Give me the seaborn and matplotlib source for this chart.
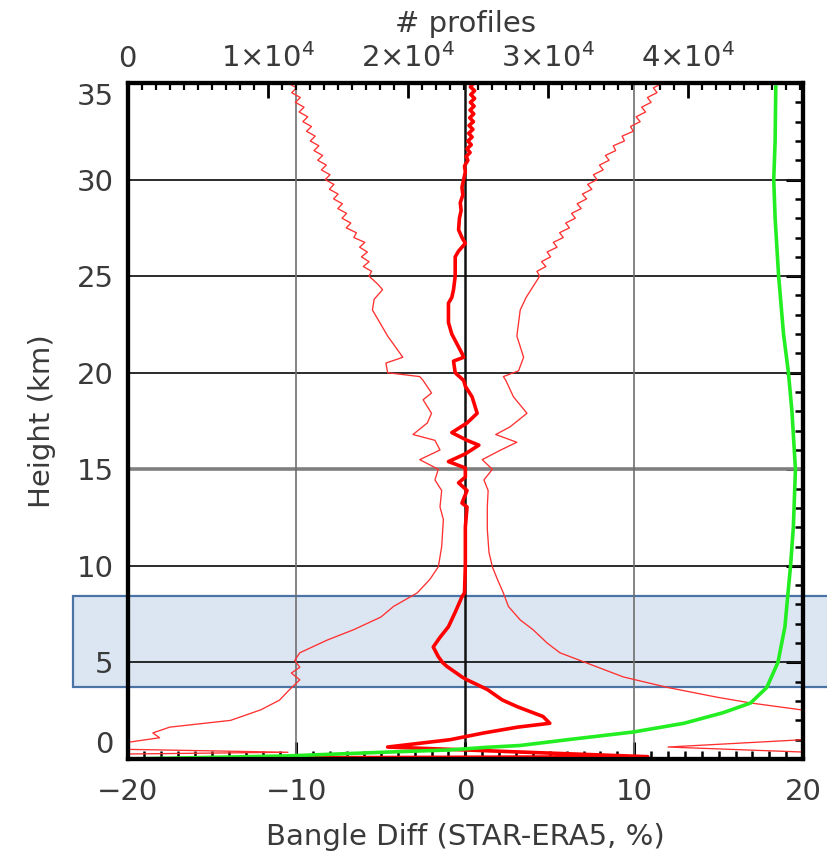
import numpy as np
import pandas as pd
import matplotlib
matplotlib.use("Agg")
import matplotlib.pyplot as plt
import seaborn as sns
from matplotlib.patches import Rectangle
from matplotlib.transforms import blended_transform_factory
from matplotlib.ticker import MultipleLocator, FixedLocator

# ---------------- data ----------------
# mean bending-angle difference (thick red), height in km, value in %
mean_h = [35.0, 34.8, 34.6, 34.4, 34.2, 34.0, 33.8, 33.6, 33.4, 33.2, 33.0, 32.8, 32.6,
          32.4, 32.2, 32.0, 31.8, 31.6, 31.4, 31.2, 31.0, 30.7, 30.4, 30.0, 29.6, 29.2,
          28.8, 28.4, 28.0, 27.4, 27.0, 26.7, 26.3, 26.0,
          25.0, 24.3, 23.9, 23.6, 22.6, 22.0, 21.5, 21.0, 20.8, 20.6, 20.0, 19.6, 19.3,
          18.75, 17.9, 17.4, 16.9, 16.5, 16.25, 15.8, 15.4, 15.07, 14.6, 14.3, 13.9,
          13.25, 13.05, 12.0, 10.0, 8.6, 8.4, 7.6, 6.85, 6.3, 5.8, 5.3, 5.0, 4.8, 4.25,
          4.1, 3.6, 3.05, 2.7, 2.2, 1.85, 1.65, 1.35, 1.0, 0.62, 0.47, 0.36, 0.12, 0.06]
mean_v = [0.5, 0.3, 0.55, 0.32, 0.55, 0.3, 0.52, 0.28, 0.5, 0.26, 0.48, 0.22, 0.45,
          0.2, 0.4, 0.15, 0.35, 0.1, 0.28, 0.05, 0.15, -0.05, 0.0, -0.1, -0.2, -0.15,
          -0.3, -0.25, -0.35, -0.4, -0.2, 0.0, -0.4, -0.6,
          -0.6, -0.7, -0.8, -1.0, -1.0, -0.8, -0.5, -0.2, -0.1, -0.7, -0.6, -0.1, 0.0,
          0.4, 0.7, 0.1, -0.8, 0.1, 0.8, 0.0, -1.0, 0.0, 0.0, -0.4, 0.1,
          -0.2, 0.1, 0.0, 0.0, -0.05, -0.2, -0.6, -1.0, -1.5, -1.9, -1.6, -1.35, -1.1, -0.2,
          0.1, 1.3, 2.2, 3.1, 4.6, 5.0, 3.1, 1.1, -0.9, -4.6, 0.0, 3.3, 10.8, -10.5]

# mean - std (thin red, left)
lo_h = [35.0, 34.75, 34.5, 34.25, 34.0, 33.75, 33.5, 33.25, 33.0, 32.75, 32.5, 32.25,
        32.0, 31.75, 31.5, 31.25, 31.0, 30.75, 30.5, 30.25, 30.0, 29.75, 29.5, 29.25,
        29.0, 28.75, 28.5, 28.25, 28.0, 27.75, 27.5, 27.25, 27.0, 26.75, 26.5, 26.25,
        26.0, 25.75, 25.5, 25.25, 25.0, 24.6, 24.3, 23.8, 23.25, 22.5,
        21.9, 20.8, 20.5, 20.0, 19.8, 19.6, 18.95, 18.6, 17.9, 17.4, 16.8, 16.5, 16.0,
        15.5, 15.0, 14.45, 13.9, 13.05, 12.4, 11.0, 9.95, 9.3, 8.6, 7.9, 7.35, 6.7,
        6.15, 5.5, 5.1, 4.75, 4.45, 4.1, 3.6, 3.05, 2.55, 2.0, 1.65, 1.35, 1.1, 0.8,
        0.6, 0.5, 0.35, 0.25]
lo_v = [-10.5, -9.99, -10.28, -9.77, -10.06, -9.55, -9.84, -9.33, -9.62, -9.11, -9.4, -8.89,
        -9.18, -8.67, -8.96, -8.45, -8.74, -8.23, -8.52, -8.01, -8.3, -7.78, -8.05, -7.53,
        -7.8, -7.28, -7.55, -7.03, -7.3, -6.78, -7.05, -6.45, -6.6, -5.95, -6.26, -5.8,
        -6.15, -5.7, -6.04, -5.55, -5.7, -5.2, -4.9, -5.4, -5.5, -5.0,
        -4.6, -3.7, -4.7, -4.6, -2.7, -2.5, -2.0, -2.5, -2.0, -2.25, -3.1, -1.8, -1.5,
        -2.7, -1.6, -1.8, -1.4, -1.5, -1.3, -1.4, -1.6, -2.1, -2.85, -4.25, -5.0, -6.6,
        -8.2, -9.8, -10.1, -9.8, -10.3, -9.8, -10.4, -11.0, -12.1, -13.9, -17.5, -18.5, -18.1, -20.5,
        -21.0, -20.0, -10.5, -21.0]

# mean + std (thin red, right)
hi_h = [35.0, 34.75, 34.5, 34.25, 34.0, 33.75, 33.5, 33.25, 33.0, 32.75, 32.5, 32.25,
        32.0, 31.75, 31.5, 31.25, 31.0, 30.75, 30.5, 30.25, 30.0, 29.75, 29.5, 29.25,
        29.0, 28.75, 28.5, 28.25, 28.0, 27.75, 27.5, 27.25, 27.0, 26.75, 26.5, 26.25,
        26.0, 25.75, 25.5, 25.25, 25.0, 23.9, 23.25, 21.9, 20.8, 20.1,
        19.8, 19.6, 18.75, 17.9, 17.2, 16.8, 16.4, 16.0, 15.5, 15.0, 14.45, 13.9, 13.05,
        11.9, 10.7, 9.95, 9.3, 8.6, 7.9, 7.2, 6.7, 6.0, 5.5, 5.1, 4.25, 3.7, 3.2, 2.9,
        2.55, 2.4, 1.2, 1.0, 0.62, 0.36, 0.3]
hi_v = [11.7, 11.13, 11.35, 10.78, 11.0, 10.44, 10.67, 10.11, 10.35, 9.78, 9.94, 9.28,
        9.42, 8.76, 8.9, 8.29, 8.51, 7.94, 8.16, 7.58, 7.8, 7.24, 7.49, 6.93,
        7.18, 6.62, 6.86, 6.29, 6.51, 5.94, 6.16, 5.58, 5.8, 5.21, 5.43, 4.84,
        5.05, 4.51, 4.77, 4.24, 4.4, 3.6, 3.25, 3.05, 3.45, 3.15,
        2.25, 2.4, 2.85, 3.65, 2.65, 1.8, 3.05, 2.1, 1.0, 1.6, 1.1, 1.35, 1.3,
        1.3, 1.4, 1.6, 1.9, 2.25, 2.55, 3.25, 4.0, 4.85, 5.6, 6.8, 9.35, 12.0, 14.9, 16.9,
        19.85, 21.0, 21.0, 20.0, 12.0, 20.0, 21.0]

# number of profiles (green, top axis)
n_h = [0.0, 0.16, 0.36, 0.47, 0.6, 0.7, 1.0, 1.4, 1.85, 2.4, 2.9, 3.7, 5.0, 6.85,
       8.45, 10.0, 12.0, 15.0, 18.0, 20.0, 22.0, 25.0, 28.0, 30.0, 32.0, 35.0]
n_v = [0, 11400, 18600, 23000, 25500, 28000, 31400, 36100, 39700, 42500, 44450, 45600,
       46400, 46900, 47100, 47300, 47500, 47650, 47400, 47150, 46800, 46450, 46200,
       46100, 46200, 46250]

x_ticks = [-20, -10, 0, 10, 20]
y_ticks = [0, 5, 10, 15, 20, 25, 30, 35]
top_ticks = [0, 10000, 20000, 30000, 40000]
top_labels = ["0", r"1$\times$10$^4$", r"2$\times$10$^4$", r"3$\times$10$^4$", r"4$\times$10$^4$"]
box_km = (3.75, 8.45)

# ---------------- figure ----------------
sns.set_theme(style="white")
plt.rcParams["font.family"] = ["DejaVu Sans"]
plt.rcParams["mathtext.fontset"] = "dejavusans"
TXT = "#3a3a3a"
FS = 21

fig = plt.figure(figsize=(8.28, 8.63), dpi=100)
ax = fig.add_axes([0.154, 0.1205, 0.816, 0.7833])

# highlight box (spans beyond the axes horizontally)
trans = blended_transform_factory(fig.transFigure, ax.transData)
box = Rectangle((73 / 828, box_km[0]), 1.2, box_km[1] - box_km[0], transform=trans,
                facecolor="#dce6f2", edgecolor="#4a74a5", lw=1.6, zorder=0.5, clip_on=False)
ax.add_patch(box)

# grid lines
for yv in y_ticks[1:-1]:
    if yv == 15:
        ax.axhline(yv, color="#7f7f7f", lw=2.6, zorder=1)
    else:
        ax.axhline(yv, color="#1a1a1a", lw=1.3, zorder=1)
for xv in (-10, 10):
    ax.axvline(xv, color="#6e6e6e", lw=1.2, zorder=1)
ax.axvline(0, color="#111111", lw=1.8, zorder=1)

sns.lineplot(x=lo_v, y=lo_h, sort=False, estimator=None, color="#ff3030", lw=0.95, ax=ax, zorder=3)
sns.lineplot(x=hi_v, y=hi_h, sort=False, estimator=None, color="#ff3030", lw=0.95, ax=ax, zorder=3)
sns.lineplot(x=mean_v, y=mean_h, sort=False, estimator=None, color="#ff0000", lw=2.6, ax=ax, zorder=4)

ax.set_xlim(-20, 20)
ax.set_ylim(0, 35)
ax.xaxis.set_major_locator(FixedLocator(x_ticks))
ax.yaxis.set_major_locator(FixedLocator(y_ticks))
ax.xaxis.set_minor_locator(MultipleLocator(1))
ax.yaxis.set_minor_locator(MultipleLocator(1))
ax.tick_params(axis="both", which="major", direction="in", length=12, width=2.2,
               color="black", labelcolor=TXT, labelsize=FS, top=False, right=True,
               labelright=False)
ax.tick_params(axis="x", which="major", pad=14)
ax.tick_params(axis="y", which="major", pad=10)
ax.tick_params(axis="both", which="minor", direction="in", length=6, width=1.8,
               color="black", top=False, right=True)
ax.set_xlabel("Bangle Diff (STAR-ERA5, %)", fontsize=FS, color=TXT, labelpad=12)
ax.set_ylabel("Height (km)", fontsize=FS, color=TXT, labelpad=15)
for s in ax.spines.values():
    s.set_linewidth(3)
    s.set_color("black")

# top axis: number of profiles
ax2 = ax.twiny()
sns.lineplot(x=n_v, y=n_h, sort=False, estimator=None, color="#22ee22", lw=2.6, ax=ax2)
ax2.set_xlim(0, 48200)
ax2.set_ylim(0, 35)
ax2.xaxis.set_major_locator(FixedLocator(top_ticks))
ax2.set_xticklabels(top_labels)
ax2.xaxis.set_minor_locator(MultipleLocator(1000))
ax2.tick_params(axis="x", which="major", direction="in", length=11, width=2,
                color="black", labelcolor=TXT, labelsize=FS, top=True, bottom=False, pad=7)
ax2.tick_params(axis="x", which="minor", direction="in", length=5, width=1.6,
                color="black", top=True, bottom=False)
ax2.set_xlabel("# profiles", fontsize=FS, color=TXT, labelpad=8)
ax2.set_ylabel("")
for s in ax2.spines.values():
    s.set_linewidth(3)
    s.set_color("black")

# end labels of the height axis sit inside the axis range, as in the reference
ylabels = ax.get_yticklabels()
ylabels[0].set_va("bottom")
ylabels[-1].set_va("top")

fig.savefig("out.png", dpi=100, facecolor="white")
